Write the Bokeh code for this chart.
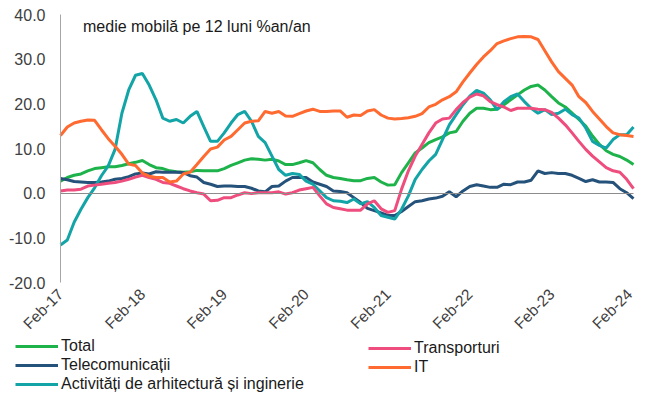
from bokeh.plotting import figure
from bokeh.models import FixedTicker, Legend, LegendItem, Label, LinearAxis, Range1d
from bokeh.embed import file_html
from bokeh.resources import INLINE
import math

tick_pos = [0, 12, 24, 36, 48, 60, 72, 84]
tick_labels = ["Feb-17", "Feb-18", "Feb-19", "Feb-20", "Feb-21", "Feb-22", "Feb-23", "Feb-24"]
y_ticks = [-20, -10, 0, 10, 20, 30, 40]

total = [2.7, 3.5, 4.0, 4.3, 5.0, 5.5, 5.7, 5.9, 5.9, 6.2, 6.6, 6.9, 7.3, 6.4, 5.7, 5.5, 5.0, 4.8, 4.7, 4.8,
         5.1, 5.0, 5.0, 5.0, 5.5, 6.2, 6.8, 7.4, 7.7, 7.6, 7.4, 7.6, 7.2, 6.4, 6.4, 6.8, 7.3, 6.8, 5.3, 4.0,
         3.5, 3.3, 3.0, 2.8, 2.8, 3.3, 3.5, 2.5, 1.8, 1.9, 4.6, 6.8, 9.0, 10.1, 11.3, 12.0, 12.6, 13.5, 13.8, 16.1,
         17.9, 19.0, 19.0, 18.7, 18.8, 19.8, 20.9, 22.0, 23.1, 23.9, 24.2, 23.1, 21.6, 20.2, 19.3, 17.9, 16.5, 15.0, 12.8, 10.9,
         9.5, 8.7, 8.2, 7.4, 6.4]
transport = [0.5, 0.7, 0.7, 0.9, 1.6, 1.8, 2.0, 2.2, 2.4, 2.7, 3.1, 3.6, 4.0, 3.5, 3.1, 2.4, 2.2, 1.6, 1.0, 0.5,
             0.1, -0.2, -1.7, -1.6, -1.0, -1.0, -0.4, 0.1, -0.1, 0.1, 0.1, 0.1, 0.3, -0.2, 0.1, 0.7, 1.0, 1.3, -0.6, -2.4,
             -3.2, -3.5, -3.8, -3.8, -3.8, -2.4, -1.7, -3.5, -4.3, -3.9, 0.9, 5.0, 8.3, 10.9, 13.5, 15.7, 16.6, 16.8, 18.7, 20.3,
             21.5, 22.2, 21.8, 20.5, 19.8, 19.3, 18.5, 19.0, 19.0, 19.0, 18.8, 18.7, 18.1, 16.8, 15.3, 13.5, 11.6, 9.8, 8.3, 7.0,
             5.7, 5.0, 4.7, 3.1, 1.0]
telecom = [3.3, 3.0, 2.6, 2.5, 2.4, 2.4, 2.5, 2.7, 3.1, 3.3, 3.7, 4.3, 4.5, 4.3, 4.8, 4.7, 4.7, 4.7, 4.6, 3.9,
           3.6, 2.4, 2.0, 1.5, 1.6, 1.6, 1.5, 1.5, 1.1, 0.5, 0.3, 1.5, 1.6, 2.7, 3.5, 3.5, 3.5, 2.5, 2.0, 1.5,
           0.5, 0.4, 0.1, -1.0, -2.1, -3.4, -3.9, -4.4, -5.0, -5.0, -4.1, -3.0, -1.9, -1.7, -1.3, -1.1, -0.7, 0.3, -0.8, 0.5,
           1.5, 1.9, 1.6, 1.3, 1.3, 2.0, 1.9, 2.5, 2.5, 2.9, 5.0, 4.4, 4.6, 4.4, 4.4, 4.0, 3.3, 2.6, 3.0, 2.5,
           2.5, 2.4, 1.0, 0.1, -1.2]
it = [12.9, 14.8, 15.7, 16.1, 16.4, 16.3, 14.2, 12.2, 10.5, 8.7, 6.5, 6.2, 4.5, 3.8, 3.5, 3.5, 2.5, 2.7, 4.3, 4.7,
      6.4, 8.2, 9.9, 10.3, 11.9, 12.7, 14.2, 15.7, 16.1, 16.2, 18.3, 17.9, 18.3, 17.3, 17.2, 17.8, 18.4, 18.8, 18.3, 18.3,
      18.4, 18.4, 17.0, 17.5, 17.4, 18.4, 18.7, 17.5, 16.8, 16.6, 16.7, 16.9, 17.2, 17.8, 19.3, 19.9, 20.9, 21.6, 22.7, 24.9,
      26.9, 28.8, 30.5, 31.9, 33.5, 34.1, 34.6, 35.0, 35.1, 35.0, 34.4, 31.9, 29.4, 27.2, 25.7, 24.2, 21.6, 20.3, 18.3, 16.6,
      14.9, 13.5, 13.1, 12.9, 12.7]
arhitect = [-11.6, -10.5, -6.5, -3.6, -1.0, 1.2, 3.9, 6.1, 9.8, 17.9, 23.1, 26.4, 26.8, 24.2, 20.9, 16.8, 16.1, 16.5, 15.7, 17.2,
            18.3, 14.9, 11.6, 11.6, 13.5, 15.7, 17.6, 18.3, 16.1, 12.7, 11.3, 8.3, 5.3, 4.0, 4.4, 4.2, 2.7, 2.0, 0.5, -1.0,
            -1.7, -1.8, -2.1, -1.3, -2.4, -1.9, -3.2, -5.0, -5.4, -5.8, -3.6, -0.6, 3.1, 5.3, 7.2, 8.7, 12.0, 15.3, 17.6, 19.8,
            21.7, 23.0, 22.4, 20.9, 18.7, 20.5, 21.6, 22.2, 20.5, 19.0, 17.9, 18.7, 17.6, 17.9, 18.8, 17.6, 16.8, 14.6, 11.6, 10.7,
            10.1, 12.0, 13.1, 13.1, 14.8]

left_col = [("Total", total, "#1db34a"),
            ("Telecomunicații", telecom, "#25527a"),
            ("Activități de arhitectură și inginerie", arhitect, "#12a4a6")]
right_col = [("Transporturi", transport, "#ee4d7d"),
             ("IT", it, "#ff6a30")]

FONT = "Liberation Sans"
W, H = 635, 393

# plot area in pixels: x 60..633, y 14..282 ; legend under the rotated labels
PX0, PX1, PY0, PY1 = 60, 633, 14, 282
sx = (PX1 - PX0) / (tick_pos[-1] - tick_pos[0])
sy = (PY1 - PY0) / (y_ticks[-1] - y_ticks[0])
xr = Range1d(tick_pos[0] - PX0 / sx, tick_pos[-1] + (W - PX1) / sx)
yr = Range1d(y_ticks[0] - (H - PY1) / sy, y_ticks[-1] + PY0 / sy)

p = figure(width=W, height=H, output_backend="svg", toolbar_location=None,
           x_range=xr, y_range=yr, min_border=0)
p.outline_line_color = None
p.grid.grid_line_color = None

p.xaxis.fixed_location = y_ticks[0]
p.xaxis.ticker = FixedTicker(ticks=tick_pos)
p.xaxis.major_label_overrides = {t: l for t, l in zip(tick_pos, tick_labels)}
p.xaxis.major_label_orientation = math.pi / 4
p.xaxis.axis_line_color = None
p.xaxis.major_tick_line_color = None
p.xaxis.minor_tick_line_color = None
p.xaxis.major_label_text_font = FONT
p.xaxis.major_label_text_font_size = "15.5px"
p.xaxis.major_label_text_color = "#404040"
p.xaxis.major_label_standoff = 3

p.yaxis.fixed_location = tick_pos[0]
p.yaxis.bounds = (y_ticks[0], y_ticks[-1])
p.yaxis.ticker = FixedTicker(ticks=y_ticks)
p.yaxis.major_label_overrides = {v: f"{v:.1f}" for v in y_ticks}
p.yaxis.axis_line_color = "#a6a6a6"
p.yaxis.major_tick_line_color = None
p.yaxis.minor_tick_line_color = None
p.yaxis.major_label_text_font = FONT
p.yaxis.major_label_text_font_size = "16px"
p.yaxis.major_label_text_color = "#404040"
p.yaxis.major_label_standoff = 9

# zero line (horizontal category axis crossing at 0)
zero_axis = LinearAxis(fixed_location=0, bounds=(tick_pos[0], tick_pos[-1]), ticker=FixedTicker(ticks=[]),
                       axis_line_color="#8c8c8c", axis_line_width=1,
                       major_tick_line_color=None, minor_tick_line_color=None,
                       major_label_text_alpha=0)
p.add_layout(zero_axis, "below")

xs = list(range(len(total)))

def draw(group):
    out = []
    for name, vals, col in group:
        r = p.line(xs, vals, line_color=col, line_width=3)
        out.append(LegendItem(label=name, renderers=[r]))
    return out

left_items = draw(left_col)
right_items = draw(right_col)

p.add_layout(Label(x=3.3, y=37.3, text="medie mobilă pe 12 luni %an/an", text_font=FONT,
                   text_font_size="16px", text_color="#1a1a1a", text_baseline="alphabetic"))

common = dict(label_text_font=FONT, label_text_font_size="16px", label_text_color="#1a1a1a",
              glyph_width=43, glyph_height=16, label_height=16, spacing=1, padding=0, margin=0,
              label_standoff=3, border_line_color=None, background_fill_alpha=0)
p.add_layout(Legend(items=left_items, location=(15, 0), **common))
p.add_layout(Legend(items=right_items, location=(368, 17), **common))

open("out.html", "w").write(file_html(p, INLINE))
